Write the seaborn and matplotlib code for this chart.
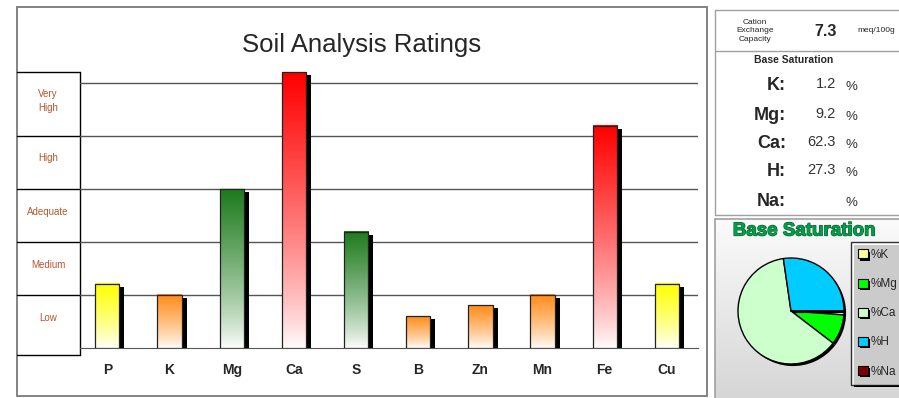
import numpy as np
import matplotlib
matplotlib.use("Agg")
import matplotlib.pyplot as plt
import matplotlib.patheffects as pe
from matplotlib.colors import LinearSegmentedColormap
from matplotlib.patches import Rectangle
import seaborn as sns

# data
nutrients = ["P", "K", "Mg", "Ca", "S", "B", "Zn", "Mn", "Fe", "Cu"]
ratings = [1.21, 1.0, 3.0, 5.2, 2.19, 0.6, 0.81, 1.0, 4.19, 1.21]
bar_colors = ["#FFFF00", "#FF8C1A", "#1E7B1E", "#FF0000", "#1E7B1E",
              "#FF8C1A", "#FF8C1A", "#FF8C1A", "#FF0000", "#FFFF00"]
rating_levels = ["Low", "Medium", "Adequate", "High", "Very\nHigh"]

cec_value = 7.3
sat_labels = ["K", "Mg", "Ca", "H", "Na"]
sat_values = [1.2, 9.2, 62.3, 27.3, None]
pie_colors = ["#FFFF99", "#00FF00", "#CCFFCC", "#00CCFF", "#800000"]

sns.set_style("white")
plt.rcParams["font.family"] = ["Liberation Sans", "DejaVu Sans"]

W, H = 899, 398
fig = plt.figure(figsize=(W / 100, H / 100), dpi=100)

# overlay in pixel coords for frames and text
bg = fig.add_axes([0, 0, 1, 1], zorder=0)
bg.set_xlim(0, W)
bg.set_ylim(H, 0)
bg.axis("off")

# main frame
bg.add_patch(Rectangle((17, 7), 690, 389, fill=False, edgecolor="#7A7A7A", lw=1.3))
bg.text(362, 45, "Soil Analysis Ratings", ha="center", va="center", fontsize=18.5)

# rating label box
rows = [355, 295, 242, 189, 136, 72]
label_y = [318, 265, 212, 158, 101]
for yy in rows:
    bg.plot([17, 80], [yy, yy], color="black", lw=1)
bg.plot([80, 80], [72, 355], color="black", lw=1)
for lab, yy in zip(rating_levels, label_y):
    bg.text(48, yy, lab, ha="center", va="center",
            fontsize=7, color="#B4572C", linespacing=1.6)

# main bar chart
ax = fig.add_axes([80 / W, 1 - 348 / H, 618 / W, 5.5 * 53 / H], zorder=2)
ax.set_facecolor("none")
sns.barplot(x=nutrients, y=ratings, ax=ax, width=0.39, color="white",
            edgecolor="none", saturation=1, zorder=3)
for patch, col in zip(ax.patches, bar_colors):
    x0, y0 = patch.get_x(), patch.get_y()
    w, h = patch.get_width(), patch.get_height()
    patch.set_path_effects([pe.SimplePatchShadow(offset=(3.6, -2.2),
                                                 shadow_rgbFace="black", alpha=1),
                            pe.Normal()])
    cmap = LinearSegmentedColormap.from_list("g", ["#FFFFFF", col])
    grad = np.linspace(0, 1, 256).reshape(-1, 1) ** 0.8
    ax.imshow(grad, extent=[x0, x0 + w, y0, y0 + h], origin="lower", cmap=cmap,
              aspect="auto", zorder=4, interpolation="bilinear")
    ax.add_patch(Rectangle((x0, y0), w, h, fill=False, edgecolor="#222222",
                           lw=0.9, zorder=5))

ax.set_xlim(-0.44, 9.5)
ax.set_ylim(0, 5.5)
ax.set_yticks([1, 2, 3, 4, 5])
ax.set_yticklabels([])
ax.tick_params(axis="y", length=0)
ax.yaxis.grid(True, color="#555555", lw=1)
ax.set_axisbelow(True)
ax.set_xticks(range(len(nutrients)))
ax.set_xticklabels(nutrients, fontsize=10, fontweight="bold")
ax.set_xticks(np.arange(0.5, 10, 1), minor=True)
ax.tick_params(axis="x", which="major", length=0, pad=11)
ax.tick_params(axis="x", which="minor", length=3, color="#555555", direction="out")
for s in ["left", "top", "right"]:
    ax.spines[s].set_visible(False)
ax.spines["bottom"].set_color("#555555")
ax.set_xlabel("")
ax.set_ylabel("")

# right table
edge = "#A0A0A0"
bg.plot([715, 899], [10, 10], color=edge, lw=1)
bg.plot([715, 715], [10, 215], color=edge, lw=1)
bg.plot([715, 899], [215, 215], color=edge, lw=1)
bg.plot([715, 899], [51, 51], color=edge, lw=1)
bg.text(755, 31, "Cation\nExchange\nCapacity", ha="center", va="center",
        fontsize=6, linespacing=1.25)
bg.text(826, 31, f"{cec_value}", ha="center", va="center", fontsize=11.5,
        fontweight="bold")
bg.text(876, 30, "meq/100g", ha="center", va="center", fontsize=6)
bg.text(794, 60, "Base Saturation", ha="center", va="center", fontsize=7.5,
        fontweight="bold")
row_y = [85, 115, 143, 171, 201]
for lab, val, yy in zip(sat_labels, sat_values, row_y):
    bg.text(786, yy, lab + ":", ha="right", va="center", fontsize=13,
            fontweight="bold")
    if val is not None:
        bg.text(836, yy - 1, f"{val}", ha="right", va="center", fontsize=10.5,
                color="#333333")
    bg.text(851, yy + 2, "%", ha="center", va="center", fontsize=9.5,
            color="#333333")

# pie panel background
grad_bg = np.linspace(0, 1, 256).reshape(-1, 1)
bg_cmap = LinearSegmentedColormap.from_list("bgc", ["#FBFBFB", "#D6D6D6"])
bg.imshow(grad_bg, extent=[715, 899, 398, 219], cmap=bg_cmap, aspect="auto",
          zorder=0, interpolation="bilinear")
bg.set_xlim(0, W)
bg.set_ylim(H, 0)
bg.plot([715, 899], [219, 219], color=edge, lw=1.2)
bg.plot([715, 715], [219, 398], color=edge, lw=1.2)
bg.text(804, 231, "Base Saturation", ha="center", va="center", fontsize=13.5,
        fontweight="bold", color="#00A04A",
        path_effects=[pe.withStroke(linewidth=0.9, foreground="#0B5E2C")])

# pie
pax = fig.add_axes([738 / W, 1 - 364 / H, 106 / W, 106 / H], zorder=3)
pie_vals = [v if v is not None else 0 for v in sat_values]
wedges, _ = pax.pie(pie_vals, colors=pie_colors, startangle=0, counterclock=False,
                    wedgeprops=dict(edgecolor="black", linewidth=1))
for wd in wedges:
    wd.set_clip_on(False)
    wd.set_path_effects([pe.SimplePatchShadow(offset=(1.5, -1.5),
                                              shadow_rgbFace="black", alpha=1),
                         pe.Normal()])
pax.set_xlim(-1, 1)
pax.set_ylim(-1, 1)
pax.set_aspect("equal")

leg = pax.legend(wedges, ["%" + s for s in sat_labels], loc="upper left",
                 bbox_to_anchor=(851 / W, 1 - 242 / H), bbox_transform=fig.transFigure,
                 frameon=True, fancybox=False, shadow=False, fontsize=8.5,
                 labelspacing=1.45, handlelength=0.8, handleheight=0.8,
                 handletextpad=0.3, borderpad=0.6, borderaxespad=0)
leg.get_frame().set_edgecolor("black")
leg.get_frame().set_linewidth(1)
leg.get_frame().set_path_effects([pe.SimplePatchShadow(offset=(2, -2),
                                                       shadow_rgbFace="black", alpha=1),
                                  pe.Normal()])
for hdl in leg.legend_handles:
    hdl.set_edgecolor("black")
    hdl.set_linewidth(0.8)

fig.savefig("out.png", dpi=100)
